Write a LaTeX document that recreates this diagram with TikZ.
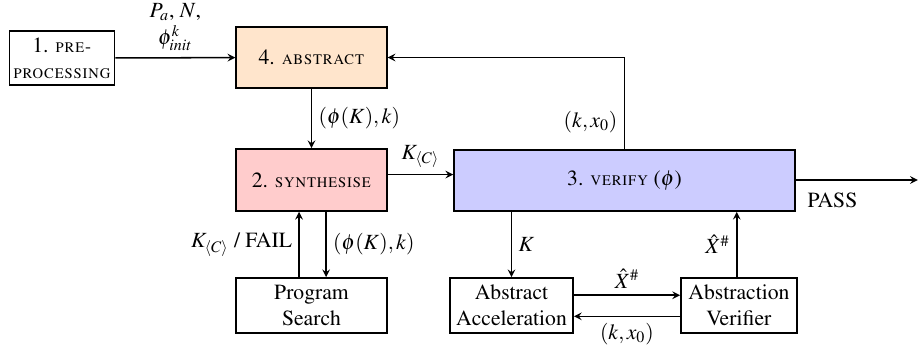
\documentclass[tikz,border=0pt]{standalone}
\usepackage[T1]{fontenc}
\usepackage{mathptmx}
\usetikzlibrary{positioning,calc}

\newcommand{\stagename}[1]{{\fontsize{9.6}{11}\selectfont\textsc{#1}}}

\tikzset{
  block/.style={draw, thick, align=center, inner sep=2pt},
  flow/.style={->, >=stealth, thick},
}

\begin{document}
\begin{tikzpicture}[font=\fontsize{11.4}{13.5}\selectfont]
\useasboundingbox (0,0) rectangle (17.02,-6.42);

% stages
\node[block, minimum width=1.92cm, minimum height=1cm] (pre) at (1.147,-1.073)
  {1. \stagename{pre-}\\\stagename{processing}};
\node[block, fill=orange!20, minimum width=2.79cm, minimum height=1.13cm] (abs) at (5.763,-1.064)
  {4. \stagename{abstract}};
\node[block, fill=red!20, minimum width=2.79cm, minimum height=1.15cm] (syn) at (5.763,-3.33)
  {2. \stagename{synthesise}};
\node[block, fill=blue!20, minimum width=6.31cm, minimum height=1.13cm] (ver) at (11.553,-3.339)
  {3. \stagename{verify} ($\phi$)};

% helpers
\node[block, minimum width=2.79cm, minimum height=1.02cm] (prog) at (5.763,-5.652)
  {Program\\Search};
\node[block, minimum width=2.28cm, minimum height=1.02cm] (accel) at (9.463,-5.652)
  {Abstract\\Acceleration};
\node[block, minimum width=2.15cm, minimum height=1.02cm] (absver) at (13.67,-5.652)
  {Abstraction\\Verifier};

\coordinate (out) at (16.98,-3.33);

\draw[flow] (pre) -- node[above=0pt, align=center] {$P_a$, $N$,\\[0.5pt]$\phi^k_{init}$} (abs);
\draw[flow] (abs) -- node[right] {$(\phi(K),k)$} (syn);
\draw[flow] ([yshift=1mm]syn.east) -- node[above] {$K_{\langle C\rangle}$} ([yshift=1mm]syn.east -| ver.west);
\draw[flow] (ver.north) |- node[pos=0.15, left] {$(k,x_0)$} (abs.east);
\draw[flow] (ver.east |- out) -- node[pos=0.3, below=3pt] {PASS} (out);

\draw[flow] ([xshift=-2.3mm]prog.north) -- node[left] {$K_{\langle C\rangle}$ / FAIL} ([xshift=-2.3mm]syn.south);
\draw[flow] ([xshift=2.7mm]syn.south) -- node[right] {$(\phi(K),k)$} ([xshift=2.7mm]prog.north);

\draw[flow] (accel.north |- ver.south) -- node[right] {$K$} (accel.north);
\draw[flow] ([xshift=-0.4mm]absver.north) -- node[left] {$\hat{X}^{\#}$} ([xshift=-0.4mm]absver.north |- ver.south);
\draw[flow] ([yshift=1.9mm]accel.east) -- node[above] {$\hat{X}^{\#}$} ([yshift=1.9mm]accel.east -| absver.west);
\draw[flow] ([yshift=-2mm]absver.west) -- node[below] {$(k,x_0)$} ([yshift=-2mm]absver.west -| accel.east);
\end{tikzpicture}
\end{document}
